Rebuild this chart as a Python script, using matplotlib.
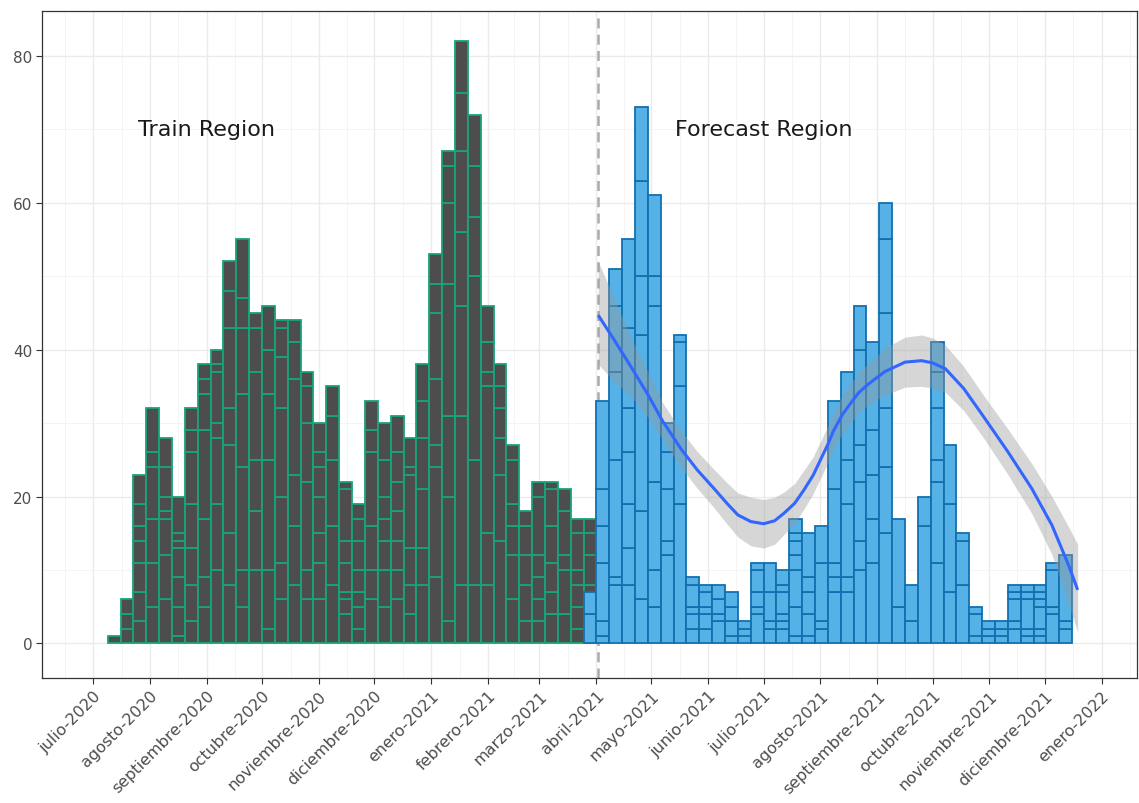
import matplotlib
matplotlib.use("Agg")
import matplotlib.pyplot as plt
import matplotlib.dates as mdates
import datetime as dt

# ---------------- data ----------------
# weekly bins, each bin is a stack of daily counts
train_start = dt.date(2020, 7, 9)
train_weeks = [
    [1], [2, 2, 2], [3, 4, 4, 3, 2, 3, 4], [5, 6, 6, 7, 2, 6], [6, 6, 5, 1, 2, 4, 4],
    [1, 4, 4, 4, 1, 1, 5], [3, 5, 5, 6, 7, 3, 3], [5, 4, 8, 12, 5, 2, 2],
    [10, 9, 9, 2, 7, 1, 2], [8, 7, 12, 5, 11, 5, 4], [5, 5, 14, 10, 9, 4, 8],
    [10, 8, 7, 12, 6, 2], [2, 8, 15, 9, 6, 6], [6, 5, 9, 12, 7, 4, 1],
    [8, 8, 7, 13, 5, 3], [6, 4, 12, 8, 5, 2], [6, 5, 4, 5, 4, 2, 4], [8, 8, 9, 6, 4],
    [4, 2, 1, 4, 3, 7, 1], [2, 3, 2, 3, 4, 3, 2], [6, 4, 6, 10, 3, 4],
    [5, 5, 4, 3, 3, 5, 5], [6, 4, 4, 4, 4, 4, 5], [4, 4, 5, 10, 1, 4],
    [8, 5, 8, 7, 5, 5], [9, 15, 3, 9, 9, 4, 4], [3, 17, 11, 18, 11, 5, 2],
    [8, 23, 15, 10, 11, 8, 7], [8, 17, 25, 8, 7, 7], [8, 7, 20, 2, 4, 5],
    [14, 9, 5, 4, 3, 3], [6, 6, 4, 3, 6, 2], [3, 5, 4, 4, 2], [3, 3, 3, 3, 8, 2],
    [4, 3, 4, 5, 5, 1], [4, 6, 2, 6, 3], [2, 3, 3, 2, 5, 2], [4, 4, 4, 3, 2],
]

forecast_start = dt.date(2021, 3, 25)
forecast_weeks = [
    [4, 3], [1, 2, 8, 5, 5, 12], [8, 1, 16, 12, 9, 5], [8, 5, 6, 7, 6, 11, 12],
    [6, 12, 24, 8, 13, 10], [5, 5, 12, 24, 4, 11], [12, 2, 7, 5, 4], [19, 16, 6, 1],
    [2, 2, 1, 3, 1], [2, 2, 1, 2, 1], [3, 1, 2, 2], [1, 2, 2, 2], [1, 1, 1],
    [4, 1, 2, 3, 1], [2, 1, 4, 4], [2, 1, 1, 3, 1, 2], [1, 4, 5, 2, 2, 1, 2],
    [1, 3, 3, 2, 6], [2, 1, 8, 5], [7, 2, 2, 10, 12], [7, 2, 10, 6, 12],
    [10, 4, 8, 5, 13, 6], [11, 6, 6, 6, 12], [15, 9, 8, 13, 10, 5], [5, 12], [3, 5],
    [16, 4], [11, 11, 3, 7, 5, 4], [7, 12, 8], [8, 6, 1], [1, 3, 1], [1, 1, 1],
    [1, 1, 1], [2, 1, 3, 1, 1], [1, 1, 4, 1, 1], [1, 1, 3, 1, 1, 1], [4, 1, 5, 1],
    [2, 1, 9],
]

# smoothed trend (loess): days after 2021-04-01
smooth_base = dt.date(2021, 4, 1)
smooth_day = [1.6, 10.0, 19.1, 28.0, 36.6, 46.4, 55.0, 64.4, 71.0, 77.5, 84.6,
              91.7, 97.0, 102.6, 108.0, 113.5, 118.4, 122.8, 126.6, 129.9, 134.8,
              139.2, 143.6, 148.5, 157.2, 168.1, 177.4, 183.5, 190.0, 200.9, 211.8,
              224.9, 237.4, 248.4, 257.6, 262.0]
smooth_fit = [44.7, 41.2, 37.6, 33.9, 30.3, 26.5, 23.6, 21.1, 19.1, 17.5, 16.6,
              16.3, 16.7, 17.7, 19.1, 20.9, 22.9, 25.0, 27.1, 28.9, 31.2,
              32.9, 34.2, 35.3, 37.0, 38.3, 38.5, 38.2, 37.4, 34.7, 30.8,
              26.1, 21.1, 16.1, 10.7, 7.3]
smooth_lo = [38.0, 35.6, 33.6, 30.8, 27.8, 24.0, 21.1, 18.5, 16.3, 14.5, 13.3,
             13.0, 13.5, 14.8, 16.4, 18.3, 20.4, 22.5, 24.6, 26.4, 28.6,
             30.2, 31.5, 32.5, 33.8, 34.9, 35.0, 34.8, 34.2, 31.7, 27.9,
             23.0, 17.7, 12.1, 5.5, 1.5]
smooth_hi = [52.0, 46.8, 41.5, 37.0, 32.8, 29.0, 26.1, 23.7, 21.9, 20.5, 19.9,
             19.6, 19.9, 20.6, 21.8, 23.6, 25.4, 27.5, 29.6, 31.4, 33.8,
             35.6, 36.9, 38.1, 40.2, 41.7, 42.0, 41.6, 40.6, 37.7, 33.7,
             29.2, 24.5, 20.0, 15.9, 13.5]

split_date = dt.date(2021, 4, 2)

month_ticks = [dt.date(2020, 7, 1), dt.date(2020, 8, 1), dt.date(2020, 9, 1),
               dt.date(2020, 10, 1), dt.date(2020, 11, 1), dt.date(2020, 12, 1),
               dt.date(2021, 1, 1), dt.date(2021, 2, 1), dt.date(2021, 3, 1),
               dt.date(2021, 4, 1), dt.date(2021, 5, 1), dt.date(2021, 6, 1),
               dt.date(2021, 7, 1), dt.date(2021, 8, 1), dt.date(2021, 9, 1),
               dt.date(2021, 10, 1), dt.date(2021, 11, 1), dt.date(2021, 12, 1),
               dt.date(2022, 1, 1)]
month_labels = ["julio-2020", "agosto-2020", "septiembre-2020", "octubre-2020",
                "noviembre-2020", "diciembre-2020", "enero-2021", "febrero-2021",
                "marzo-2021", "abril-2021", "mayo-2021", "junio-2021", "julio-2021",
                "agosto-2021", "septiembre-2021", "octubre-2021", "noviembre-2021",
                "diciembre-2021", "enero-2022"]
y_ticks = [0, 20, 40, 60, 80]

# ---------------- figure ----------------
W, H = 1139, 804
fig = plt.figure(figsize=(W / 100, H / 100), dpi=100)
ax = fig.add_axes([42 / W, 125 / H, 1095 / W, 667 / H])
ax.set_facecolor("white")

def stacked(weeks, start, fc, ec, z):
    xs, hs, bs = [], [], []
    for i, segs in enumerate(weeks):
        x0 = mdates.date2num(start + dt.timedelta(days=7 * i))
        b = 0
        for s in segs:
            xs.append(x0); hs.append(s); bs.append(b)
            b += s
    ax.bar(xs, hs, width=7, bottom=bs, align="edge", color=fc, edgecolor=ec,
           linewidth=1.3, zorder=z)

stacked(train_weeks, train_start, "#4D4D4D", "#17A57B", 3)
stacked(forecast_weeks, forecast_start, "#56B1E6", "#1270B0", 4)

sx = [mdates.date2num(smooth_base + dt.timedelta(days=d)) for d in smooth_day]
ax.fill_between(sx, smooth_lo, smooth_hi, color="#999999", alpha=0.4, lw=0, zorder=5)
ax.plot(sx, smooth_fit, color="#3366FF", lw=2.2, zorder=6, solid_joinstyle="round",
        solid_capstyle="butt")

ax.axvline(mdates.date2num(split_date), color="#AAAAAA", lw=1.8,
           linestyle=(0, (4, 2.5)), zorder=2.5)

ax.text(mdates.date2num(dt.date(2020, 9, 1)), 70, "Train Region", ha="center",
        va="center", fontsize=16, color="#1A1A1A", zorder=7)
ax.text(mdates.date2num(dt.date(2021, 7, 1)), 70, "Forecast Region", ha="center",
        va="center", fontsize=16, color="#1A1A1A", zorder=7)

# axes / scales
xmin = mdates.date2num(dt.date(2020, 7, 1)) - 27.8
xmax = mdates.date2num(dt.date(2022, 1, 1)) + 19.3
ax.set_xlim(xmin, xmax)
ax.set_ylim(-4.7, 86.1)

tick_nums = [mdates.date2num(d) for d in month_ticks]
ax.set_xticks(tick_nums)
ax.set_xticklabels(month_labels, rotation=45, ha="right", rotation_mode="anchor")
minor_x = [tick_nums[0] - (tick_nums[1] - tick_nums[0]) / 2]
minor_x += [(a + b) / 2 for a, b in zip(tick_nums[:-1], tick_nums[1:])]
minor_x.append(tick_nums[-1] + (tick_nums[-1] - tick_nums[-2]) / 2)
ax.set_xticks(minor_x, minor=True)
ax.set_yticks(y_ticks)
ax.set_yticks([10, 30, 50, 70], minor=True)

ax.grid(True, which="major", color="#EBEBEB", lw=1.0, zorder=0)
ax.grid(True, which="minor", color="#F2F2F2", lw=0.6, zorder=0)
ax.set_axisbelow(True)
ax.tick_params(axis="both", which="major", length=4, width=0.8, color="#333333",
               labelcolor="#4D4D4D")
ax.tick_params(axis="x", which="major", labelsize=11.5, pad=3)
ax.tick_params(axis="y", which="major", labelsize=11, pad=3)
ax.tick_params(which="minor", length=0)
for sp in ax.spines.values():
    sp.set_color("#333333")
    sp.set_linewidth(0.9)

fig.savefig("out.png", dpi=100, facecolor="white")
